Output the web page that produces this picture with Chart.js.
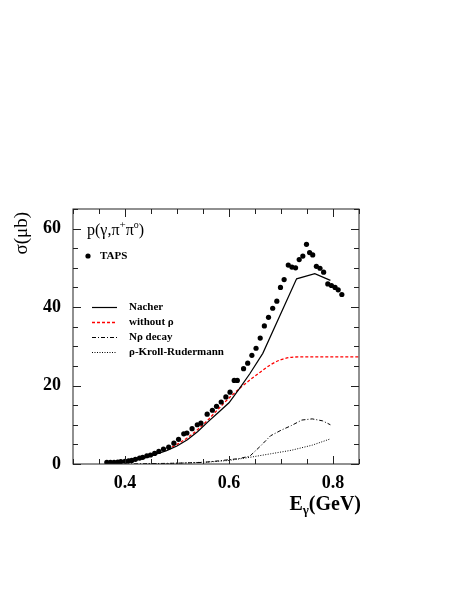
<!DOCTYPE html>
<html>
<head>
<meta charset="utf-8">
<script src="https://cdn.jsdelivr.net/npm/chart.js@4"></script>
<style>
  body { margin: 0; background: #fff; }
</style>
</head>
<body>
<canvas id="chart" width="457" height="591"></canvas>
<script>
// TAPS data points (E_gamma in GeV, sigma in microbarn)
const tapsE = [0.365, 0.372, 0.379, 0.386, 0.392, 0.400, 0.407, 0.413, 0.420, 0.428,
               0.434, 0.442, 0.449, 0.457, 0.465, 0.474, 0.484, 0.494, 0.503, 0.513,
               0.519, 0.529, 0.539, 0.546, 0.558, 0.568, 0.576, 0.585, 0.594, 0.602,
               0.610, 0.616, 0.628, 0.636, 0.644, 0.652, 0.660, 0.668, 0.676, 0.684,
               0.692, 0.699, 0.706, 0.714, 0.721, 0.728, 0.735, 0.742, 0.749, 0.755,
               0.761, 0.768, 0.775, 0.782, 0.790, 0.797, 0.804, 0.810, 0.817];
const tapsSigma = [0.4, 0.4, 0.4, 0.5, 0.6, 0.7, 0.8, 0.9, 1.2, 1.5,
                   1.7, 2.1, 2.3, 2.7, 3.2, 3.8, 4.3, 5.3, 6.3, 7.7,
                   7.9, 9.0, 10.0, 10.4, 12.7, 13.7, 14.7, 15.8, 17.1, 18.3,
                   21.3, 21.3, 24.3, 25.7, 27.7, 29.5, 32.1, 35.2, 37.4, 39.7,
                   41.5, 45.0, 47.0, 50.7, 50.2, 50.0, 52.1, 53.0, 56.0, 53.9,
                   53.3, 50.4, 49.9, 48.9, 45.9, 45.5, 45.0, 44.4, 43.2];

// model curves
const nacherE = [0.38, 0.40, 0.42, 0.44, 0.46, 0.48, 0.50, 0.52, 0.54, 0.56, 0.58, 0.60, 0.62, 0.64, 0.665, 0.73, 0.765, 0.795];
const nacherSigma = [0.1, 0.5, 1.0, 1.6, 2.5, 3.4, 4.6, 6.2, 8.3, 10.8, 13.2, 15.6, 19.2, 23.0, 28.2, 47.2, 48.5, 46.8];

const noRhoE = [0.38, 0.40, 0.42, 0.44, 0.46, 0.48, 0.50, 0.52, 0.54, 0.56, 0.58, 0.60, 0.62, 0.64, 0.66, 0.68, 0.70, 0.72, 0.74, 0.85];
const noRhoSigma = [0.1, 0.6, 1.1, 1.8, 2.7, 3.7, 5.0, 6.7, 8.8, 11.3, 14.1, 16.8, 19.2, 21.4, 23.4, 25.3, 26.6, 27.2, 27.3, 27.3];

const nRhoE = [0.40, 0.45, 0.50, 0.55, 0.58, 0.60, 0.62, 0.64, 0.66, 0.68, 0.70, 0.72, 0.74, 0.76, 0.78, 0.795];
const nRhoSigma = [0.0, 0.1, 0.2, 0.4, 0.8, 1.1, 1.4, 2.0, 4.5, 7.2, 8.6, 9.8, 11.2, 11.5, 11.0, 10.0];

const krE = [0.44, 0.48, 0.52, 0.56, 0.60, 0.64, 0.68, 0.72, 0.76, 0.795];
const krSigma = [0.0, 0.1, 0.3, 0.5, 0.9, 1.7, 2.6, 3.5, 4.8, 6.4];

const xTickLabels = [0.4, 0.6, 0.8];
const yTickLabels = [0, 20, 40, 60];

function pts(xs, ys) {
  return xs.map((x, i) => ({ x: x, y: ys[i] }));
}

const SERIF = "'Liberation Serif', 'DejaVu Serif', serif";

// frame, inward ticks, titles and legend drawn ROOT style
const rootStyle = {
  id: "rootStyle",
  afterDraw(chart) {
    const ctx = chart.ctx;
    const a = chart.chartArea;
    const xs = chart.scales.x, ys = chart.scales.y;
    ctx.save();
    ctx.strokeStyle = "#222";
    ctx.lineWidth = 1;
    ctx.strokeRect(a.left, a.top, a.right - a.left, a.bottom - a.top);

    ctx.beginPath();
    for (let i = 0; i <= 11; i++) {
      const v = 0.3 + i * 0.05;
      const px = Math.round(xs.getPixelForValue(v)) + 0.5;
      const major = xTickLabels.some(t => Math.abs(t - v) < 1e-6);
      const len = major ? 8 : 5;
      ctx.moveTo(px, a.bottom); ctx.lineTo(px, a.bottom - len);
      ctx.moveTo(px, a.top); ctx.lineTo(px, a.top + len);
    }
    for (let v = 0; v <= 65; v += 5) {
      const py = Math.round(ys.getPixelForValue(v)) + 0.5;
      const major = yTickLabels.includes(v);
      const len = major ? 8 : 5;
      ctx.moveTo(a.left, py); ctx.lineTo(a.left + len, py);
      ctx.moveTo(a.right, py); ctx.lineTo(a.right - len, py);
    }
    ctx.stroke();

    ctx.fillStyle = "#000";
    // y title
    ctx.save();
    ctx.translate(22, 212);
    ctx.rotate(-Math.PI / 2);
    ctx.font = "19px " + SERIF;
    ctx.textAlign = "right";
    ctx.textBaseline = "middle";
    ctx.fillText("σ(μb)", 0, 0);
    ctx.restore();

    // x title E_gamma(GeV), right aligned
    ctx.textBaseline = "alphabetic";
    ctx.textAlign = "left";
    const big = "bold 20px " + SERIF, sub = "bold 13px " + SERIF;
    ctx.font = big; const wE = ctx.measureText("E").width, wG = ctx.measureText("(GeV)").width;
    ctx.font = sub; const wg = ctx.measureText("γ").width;
    let x0 = 361 - wE - wg - wG;
    ctx.font = big; ctx.fillText("E", x0, 510);
    ctx.font = sub; ctx.fillText("γ", x0 + wE, 514);
    ctx.font = big; ctx.fillText("(GeV)", x0 + wE + wg, 510);

    // reaction label p(γ,π+π0)
    const parts = [["p(γ,π", "16px", 0], ["+", "11px", -7], ["π", "16px", 0], ["o", "10px", -7], [")", "16px", 0]];
    let px = 87;
    parts.forEach(p => {
      ctx.font = p[1] + " " + SERIF;
      ctx.fillText(p[0], px, 235 + p[2]);
      px += ctx.measureText(p[0]).width;
    });

    // legend
    ctx.font = "bold 11px " + SERIF;
    ctx.textBaseline = "middle";
    const taps = chart.data.datasets[0];
    ctx.beginPath();
    ctx.arc(88, 256, taps.pointRadius, 0, 2 * Math.PI);
    ctx.fill();
    ctx.fillText(taps.label, 100, 256);
    chart.data.datasets.slice(1).forEach((ds, i) => {
      const y = 307.5 + i * 15;
      ctx.save();
      ctx.strokeStyle = ds.borderColor;
      ctx.lineWidth = ds.borderWidth;
      ctx.setLineDash(ds.borderDash || []);
      ctx.beginPath();
      ctx.moveTo(92, y); ctx.lineTo(117, y);
      ctx.stroke();
      ctx.restore();
      ctx.fillText(ds.label, 129, y);
    });
    ctx.restore();
  }
};

new Chart(document.getElementById("chart").getContext("2d"), {
  type: "scatter",
  data: {
    datasets: [
      {
        label: "TAPS",
        data: pts(tapsE, tapsSigma),
        pointRadius: 2.6,
        pointBackgroundColor: "#000",
        pointBorderWidth: 0,
        showLine: false
      },
      {
        label: "Nacher",
        data: pts(nacherE, nacherSigma),
        showLine: true, pointRadius: 0,
        borderColor: "#000", borderWidth: 1.2
      },
      {
        label: "without ρ",
        data: pts(noRhoE, noRhoSigma),
        showLine: true, pointRadius: 0,
        borderColor: "#ff0000", borderWidth: 1.3, borderDash: [3, 2],
        cubicInterpolationMode: "monotone"
      },
      {
        label: "Nρ decay",
        data: pts(nRhoE, nRhoSigma),
        showLine: true, pointRadius: 0,
        borderColor: "#000", borderWidth: 1, borderDash: [4, 2, 1, 2]
      },
      {
        label: "ρ-Kroll-Rudermann",
        data: pts(krE, krSigma),
        showLine: true, pointRadius: 0,
        borderColor: "#000", borderWidth: 1, borderDash: [1, 1.5]
      }
    ]
  },
  options: {
    responsive: false,
    animation: false,
    devicePixelRatio: 1,
    layout: { padding: { top: 209, right: 98, left: 0, bottom: 0 } },
    plugins: { legend: { display: false }, tooltip: { enabled: false } },
    scales: {
      x: {
        type: "linear", min: 0.3, max: 0.85,
        grid: { display: false, drawTicks: false },
        border: { display: false },
        afterFit: s => { s.height = 127; },
        ticks: {
          stepSize: 0.05, padding: 9, maxRotation: 0, autoSkip: false,
          color: "#000",
          font: { family: SERIF, size: 18, weight: "bold" },
          callback: v => xTickLabels.some(t => Math.abs(t - v) < 1e-6) ? v.toFixed(1) : ""
        }
      },
      y: {
        type: "linear", min: 0, max: 65,
        grid: { display: false, drawTicks: false },
        border: { display: false },
        afterFit: s => { s.width = 73; },
        ticks: {
          stepSize: 5, padding: 12, autoSkip: false,
          color: "#000",
          font: { family: SERIF, size: 18, weight: "bold" },
          callback: v => yTickLabels.includes(v) ? String(v) : ""
        }
      }
    }
  },
  plugins: [rootStyle]
});
</script>
</body>
</html>
